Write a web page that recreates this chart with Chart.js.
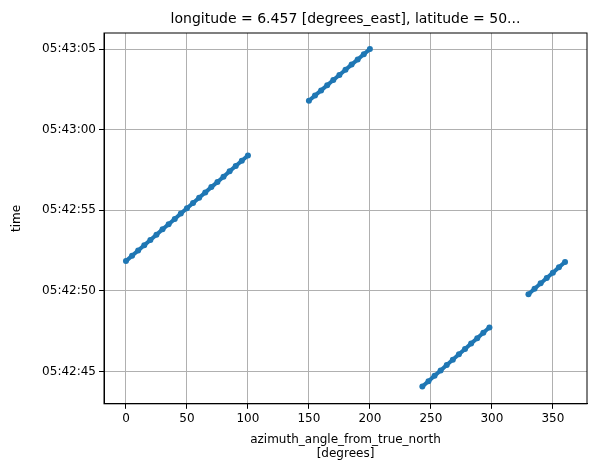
<!DOCTYPE html>
<html>
<head>
<meta charset="utf-8">
<script src="https://cdn.jsdelivr.net/npm/chart.js"></script>
<style>
  body { margin: 0; background: #fff; }
  #wrap { width: 609px; height: 474px; }
</style>
</head>
<body>
<div id="wrap"><canvas id="chart"></canvas></div>
<script>
// azimuth (degrees) and time as seconds after 05:42:00
const az1 = [0, 5, 10, 15, 20, 25, 30, 35, 40, 45, 50, 55, 60, 65, 70, 75, 80, 85, 90, 95, 100];
const t1 = [51.85, 52.18, 52.51, 52.83, 53.16, 53.49, 53.82, 54.14, 54.47, 54.80, 55.13, 55.45, 55.78, 56.11, 56.44, 56.76, 57.09, 57.42, 57.75, 58.07, 58.40];
const az2 = [150, 155, 160, 165, 170, 175, 180, 185, 190, 195, 200];
const t2 = [61.8, 62.12, 62.44, 62.76, 63.08, 63.4, 63.72, 64.04, 64.36, 64.68, 65.0];
const az3 = [243, 248, 253, 258, 263, 268, 273, 278, 283, 288, 293, 298];
const t3 = [44.07, 44.4, 44.74, 45.07, 45.4, 45.74, 46.07, 46.4, 46.74, 47.07, 47.4, 47.74];
const az4 = [330, 335, 340, 345, 350, 355, 360];
const t4 = [49.8, 50.13, 50.47, 50.8, 51.13, 51.47, 51.8];

const xTicks = [0, 50, 100, 150, 200, 250, 300, 350];
const yTicks = [45, 50, 55, 60, 65];
const titleText = 'longitude = 6.457 [degrees_east], latitude = 50...';

const blue = '#1f77b4';
const font = { family: 'DejaVu Sans', size: 12 };

function seg(xs, ys) {
    return {
        data: xs.map((x, i) => ({ x: x, y: ys[i] })),
        showLine: true,
        borderColor: blue,
        backgroundColor: blue,
        borderWidth: 4,
        pointRadius: 3,
        pointBorderWidth: 0
    };
}

function fmt(v) {
    const m = 42 + Math.floor(v / 60);
    const s = Math.round(v % 60);
    return '05:' + String(m).padStart(2, '0') + ':' + String(s).padStart(2, '0');
}

// frame around the plot and a title centred over it
const framePlugin = {
    id: 'frame',
    afterDraw(chart) {
        const a = chart.chartArea, ctx = chart.ctx;
        ctx.save();
        ctx.strokeStyle = '#000';
        ctx.lineWidth = 1;
        ctx.strokeRect(a.left, a.top, a.right - a.left, a.bottom - a.top);
        ctx.fillStyle = '#000';
        ctx.font = '14px "DejaVu Sans"';
        ctx.textAlign = 'center';
        ctx.textBaseline = 'bottom';
        ctx.fillText(titleText, (a.left + a.right) / 2, a.top - 7);
        ctx.restore();
    }
};

new Chart(document.getElementById('chart'), {
    type: 'scatter',
    data: { datasets: [seg(az1, t1), seg(az2, t2), seg(az3, t3), seg(az4, t4)] },
    plugins: [framePlugin],
    options: {
        responsive: true,
        maintainAspectRatio: false,
        animation: false,
        layout: { padding: { top: 33, right: 22, left: 6, bottom: 10 } },
        plugins: {
            legend: { display: false },
            tooltip: { enabled: false }
        },
        scales: {
            x: {
                type: 'linear', min: -18, max: 378,
                afterBuildTicks: a => { a.ticks = xTicks.map(v => ({ value: v })); },
                ticks: { color: '#000', font: font, maxRotation: 0 },
                grid: { color: '#b0b0b0', tickColor: '#000', tickLength: 5 },
                border: { color: '#000' },
                title: {
                    display: true,
                    text: ['azimuth_angle_from_true_north', '[degrees]'],
                    color: '#000', font: font, padding: 3
                }
            },
            y: {
                type: 'linear', min: 43.0, max: 66.0,
                afterBuildTicks: a => { a.ticks = yTicks.map(v => ({ value: v })); },
                afterFit: a => { a.width = 98; },
                ticks: { color: '#000', font: font, callback: v => fmt(v) },
                grid: { color: '#b0b0b0', tickColor: '#000', tickLength: 5 },
                border: { color: '#000' },
                title: { display: true, text: 'time', color: '#000', font: font }
            }
        }
    }
});
</script>
</body>
</html>
